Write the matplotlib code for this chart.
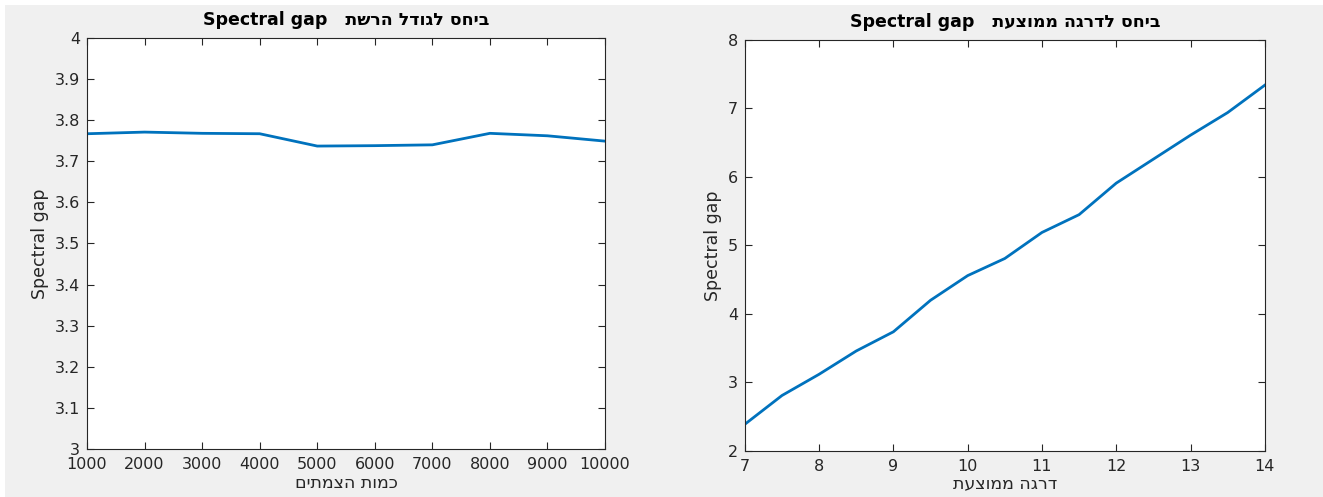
import numpy as np
import matplotlib.pyplot as plt
from matplotlib.patches import Rectangle


def rtl(s):
    # matplotlib lays text out left to right, so Hebrew runs are reversed
    return s[::-1]


# spectral gap vs. network size
nodes = [1000, 2000, 3000, 4000, 5000, 6000, 7000, 8000, 9000, 10000]
gap_by_size = [3.767, 3.771, 3.768, 3.767, 3.737, 3.738, 3.740, 3.768, 3.762, 3.749]

# spectral gap vs. average degree
avg_degree = [7, 7.5, 8, 8.5, 9, 9.5, 10, 10.5, 11, 11.5, 12, 12.5, 13, 13.5, 14]
gap_by_degree = [2.39, 2.81, 3.12, 3.46, 3.74, 4.20, 4.56, 4.81, 5.19, 5.45,
                 5.91, 6.26, 6.61, 6.94, 7.34]

blue = '#0072BD'
txt = '#262626'
plt.rcParams['font.family'] = ['DejaVu Sans']

fig = plt.figure(figsize=(13.23, 4.97), dpi=100, facecolor='white')
# grey window background with a thin white edge top/left
fig.patches.append(Rectangle((5 / 1323, 0), 1, 1 - 5 / 497, transform=fig.transFigure,
                             facecolor='#f0f0f0', edgecolor='none', zorder=-10))

ax1 = fig.add_axes([0.0658, 0.0966, 0.3915, 0.827])
ax2 = fig.add_axes([0.563, 0.0926, 0.393, 0.827])

for ax in (ax1, ax2):
    ax.set_facecolor('white')
    for sp in ax.spines.values():
        sp.set_color('#262626')
        sp.set_linewidth(0.8)
    ax.tick_params(direction='in', top=True, right=True, labelsize=11.5,
                   colors=txt, length=5, width=0.8)
    ax.tick_params(axis='x', pad=6)
    ax.tick_params(axis='y', pad=5)
    ax.set_ylabel('Spectral gap', fontsize=12.5, color=txt)

ax1.plot(nodes, gap_by_size, color=blue, lw=2)
ax1.set_xlim(1000, 10000)
ax1.set_ylim(3, 4)
ax1.set_xticks(np.arange(1000, 10001, 1000))
ax1.set_yticks(np.arange(3, 4.01, 0.1))
ax1.set_yticklabels(['3', '3.1', '3.2', '3.3', '3.4', '3.5', '3.6', '3.7', '3.8', '3.9', '4'])
ax1.set_title('Spectral gap   ' + rtl('ביחס לגודל הרשת'), fontsize=12.5,
              fontweight='bold', pad=9)
ax1.set_xlabel(rtl('כמות הצמתים'), fontsize=12.5, color=txt, labelpad=1)

ax2.plot(avg_degree, gap_by_degree, color=blue, lw=2)
ax2.set_xlim(7, 14)
ax2.set_ylim(2, 8)
ax2.set_xticks(range(7, 15))
ax2.set_yticks(range(2, 9))
ax2.set_title('Spectral gap   ' + rtl('ביחס לדרגה ממוצעת'), fontsize=12.5,
              fontweight='bold', pad=9)
ax2.set_xlabel(rtl('דרגה ממוצעת'), fontsize=12.5, color=txt, labelpad=0)

fig.savefig('out.png', dpi=100, facecolor=fig.get_facecolor())
